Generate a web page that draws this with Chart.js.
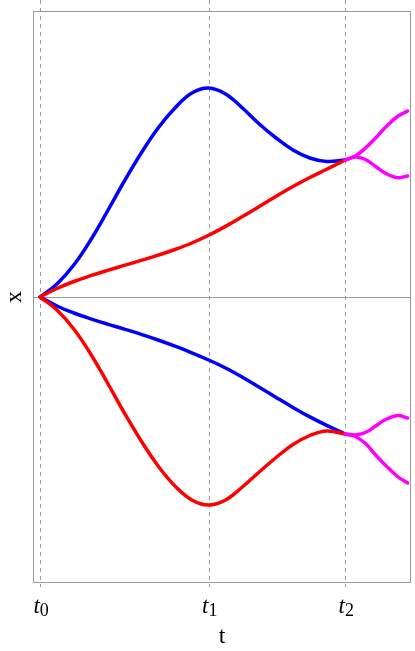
<!DOCTYPE html>
<html>
<head>
<meta charset="utf-8">
<script src="https://cdn.jsdelivr.net/npm/chart.js@4/dist/chart.umd.min.js"></script>
<style>
html, body { margin: 0; padding: 0; background: #fff; }
#wrap { width: 415px; height: 651px; position: relative; }
</style>
</head>
<body>
<div id="wrap"><canvas id="pathChart"></canvas></div>
<script>
// ==========================================
// data
// ==========================================

// t samples from t0 to t2
const tMain = [0, 0.1, 0.2, 0.3, 0.4, 0.5, 0.6, 0.7, 0.8, 0.9, 1, 1.1, 1.2, 1.3, 1.4, 1.5, 1.6, 1.7, 1.81];

const blueUpper = [0, 0.13, 0.32, 0.57, 0.86, 1.16, 1.44, 1.69, 1.89, 2.04, 2.09, 2.03, 1.89, 1.73, 1.59, 1.47, 1.39, 1.355, 1.37];
const redUpper  = [0, 0.085, 0.155, 0.213, 0.266, 0.316, 0.366, 0.418, 0.475, 0.54, 0.617, 0.706, 0.804, 0.906, 1.008, 1.105, 1.195, 1.277, 1.37];
const blueLower = [0, -0.09, -0.16, -0.218, -0.271, -0.321, -0.373, -0.43, -0.492, -0.558, -0.63, -0.71, -0.802, -0.902, -1.004, -1.104, -1.199, -1.284, -1.37];
const redLower  = [0, -0.13, -0.32, -0.57, -0.86, -1.16, -1.44, -1.69, -1.89, -2.03, -2.08, -2.03, -1.90, -1.75, -1.605, -1.475, -1.385, -1.34, -1.37];

// t samples after t2 (the branches)
const tBranch = [1.81, 1.87, 1.93, 1.99, 2.05, 2.12, 2.18];

const upperHigh = [1.37, 1.41, 1.49, 1.59, 1.70, 1.805, 1.86];
const upperLow  = [1.37, 1.40, 1.375, 1.305, 1.235, 1.193, 1.21];
const lowerHigh = [-1.37, -1.38, -1.355, -1.29, -1.225, -1.185, -1.21];
const lowerLow  = [-1.37, -1.395, -1.465, -1.58, -1.684, -1.795, -1.86];

// ticks on the t axis: base letter + subscript
const tickValues = [0, 1, 1.81];
const tickLabels = [["t", "0"], ["t", "1"], ["t", "2"]];

// ==========================================
// helpers
// ==========================================

function pts(ts, xs){
    return ts.map((t, i) => ({x: t, y: xs[i]}));
}

function line(ts, xs, color){
    return {
        data: pts(ts, xs),
        borderColor: color,
        borderWidth: 3.5,
        pointRadius: 0,
        fill: false,
        tension: 0.4,
        borderCapStyle: "round",
        borderJoinStyle: "round"
    };
}

// frame, zero line, dashed guides, subscript tick labels
const guides = {
    id: "guides",
    beforeDatasetsDraw(chart){
        const {ctx, chartArea: a, scales: {x, y}} = chart;
        ctx.save();
        ctx.strokeStyle = "#9a9a9a";
        ctx.lineWidth = 1;
        ctx.strokeRect(Math.round(a.left) + 0.5, Math.round(a.top) + 0.5,
            Math.round(a.width) - 1, Math.round(a.height) - 1);
        const y0 = Math.round(y.getPixelForValue(0)) + 0.5;
        ctx.beginPath();
        ctx.moveTo(a.left, y0);
        ctx.lineTo(a.right, y0);
        ctx.stroke();
        ctx.setLineDash([4, 4]);
        tickValues.forEach(v => {
            const px = Math.round(x.getPixelForValue(v)) + 0.5;
            ctx.beginPath();
            ctx.moveTo(px, 0);
            ctx.lineTo(px, a.bottom + 4);
            ctx.stroke();
        });
        ctx.restore();
    },
    afterDraw(chart){
        const {ctx, chartArea: a, scales: {x}} = chart;
        const baseFont = "italic 23px 'Liberation Serif'";
        const subFont = "18px 'Liberation Serif'";
        ctx.save();
        ctx.fillStyle = "#000";
        ctx.textBaseline = "alphabetic";
        ctx.textAlign = "left";
        tickValues.forEach((v, i) => {
            const [b, s] = tickLabels[i];
            ctx.font = baseFont;
            const wb = ctx.measureText(b).width;
            ctx.font = subFont;
            const ws = ctx.measureText(s).width;
            const start = x.getPixelForValue(v) - (wb + ws) / 2 + 1;
            ctx.font = baseFont;
            ctx.fillText(b, start, a.bottom + 30);
            ctx.font = subFont;
            ctx.fillText(s, start + wb, a.bottom + 33);
        });
        ctx.restore();
    }
};

// ==========================================
// chart
// ==========================================

const ctx = document
    .getElementById("pathChart")
    .getContext("2d");

new Chart(ctx, {

    type: "line",

    data: {
        datasets: [
            line(tBranch, upperHigh, "#ff00ff"),
            line(tBranch, upperLow, "#ff00ff"),
            line(tBranch, lowerHigh, "#ff00ff"),
            line(tBranch, lowerLow, "#ff00ff"),
            line(tMain, redUpper, "#ff0000"),
            line(tMain, redLower, "#ff0000"),
            line(tMain, blueUpper, "#0000ff"),
            line(tMain, blueLower, "#0000ff")
        ]
    },

    options: {
        responsive: true,
        maintainAspectRatio: false,
        animation: false,
        layout: {
            padding: {top: 11, right: 4, left: 0, bottom: 0}
        },
        plugins: {
            legend: {display: false},
            tooltip: {enabled: false}
        },
        scales: {
            x: {
                type: "linear",
                min: -0.042,
                max: 2.2,
                afterBuildTicks: s => { s.ticks = tickValues.map(v => ({value: v})); },
                afterFit: s => { s.height = 68; },
                grid: {display: false},
                border: {display: false},
                ticks: {display: false},
                title: {
                    display: true,
                    text: "t",
                    color: "#000",
                    font: {family: "'Liberation Serif'", size: 24},
                    padding: {top: 0, bottom: 0}
                }
            },
            y: {
                type: "linear",
                min: -2.86,
                max: 2.86,
                afterFit: s => { s.width = 33; },
                grid: {display: false},
                border: {display: false},
                ticks: {display: false},
                title: {
                    display: true,
                    text: "x",
                    color: "#000",
                    font: {family: "'Liberation Serif'", size: 24},
                    padding: {top: 0, bottom: 0}
                }
            }
        }
    },

    plugins: [guides]

});
</script>
</body>
</html>
